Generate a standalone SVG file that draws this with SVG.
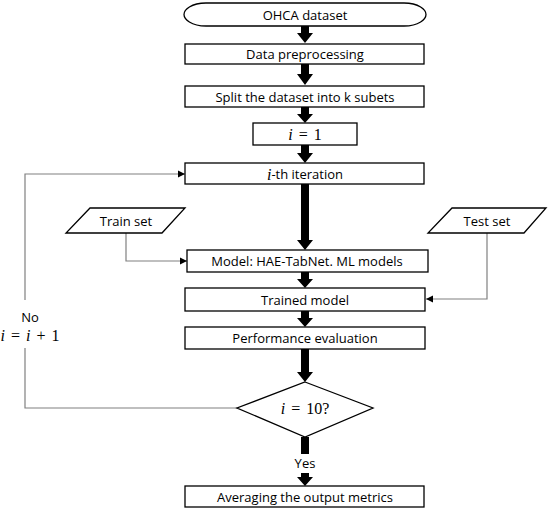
<svg xmlns="http://www.w3.org/2000/svg" width="550" height="517" viewBox="0 0 550 517">
<defs>
<style>
.box{fill:#fff;stroke:#000;stroke-width:1.3}
.t{font-family:"Open Sans","Liberation Sans",sans-serif;font-size:13px;fill:#000;text-anchor:middle;dominant-baseline:central}
.m{font-family:"Liberation Serif","DejaVu Serif",serif;font-size:16px;word-spacing:2px;fill:#000;text-anchor:middle;dominant-baseline:central}
.big{fill:#000}
.con{fill:none;stroke:#808080;stroke-width:1.2}
</style>
<marker id="ah" markerWidth="8" markerHeight="8" refX="7" refY="4" orient="auto" markerUnits="userSpaceOnUse">
<path d="M0,0.5 L7,4 L0,7.5 Z" fill="#000"/>
</marker>
</defs>
<rect width="550" height="517" fill="#fff"/>

<g id="connectors">
<polygon class="big" points="301,26 309,26 309,33 313,33 305,43 297,33 301,33"/>
<polygon class="big" points="301,64 309,64 309,74 313,74 305,85 297,74 301,74"/>
<polygon class="big" points="301,107 309,107 309,114 313,114 305,123 297,114 301,114"/>
<polygon class="big" points="301,145 309,145 309,153 313,153 305,163 297,153 301,153"/>
<polygon class="big" points="301,184 309,184 309,240 313,240 305,250 297,240 301,240"/>
<polygon class="big" points="301,272 309,272 309,279 313,279 305,288 297,279 301,279"/>
<polygon class="big" points="301,311 309,311 309,318 313,318 305,327 297,318 301,318"/>
<polygon class="big" points="301,349 309,349 309,372 313,372 305,382 297,372 301,372"/>
<rect class="big" x="301" y="437" width="8" height="17"/>
<polygon class="big" points="301,473 309,473 309,477 313,477 305,486 297,477 301,477"/>
<polyline class="con" points="237,408 25,408 25,348"/>
<polyline class="con" points="25,300 25,174 185,174" marker-end="url(#ah)"/>
<polyline class="con" points="126,233 126,261 187,261" marker-end="url(#ah)"/>
<polyline class="con" points="487,233 487,299 426,299" marker-end="url(#ah)"/>
<text class="t" x="30" y="317">No</text>
<text class="m" x="30" y="335"><tspan font-style="italic">i</tspan> = <tspan font-style="italic">i</tspan> + 1</text>
<text class="t" x="305" y="463">Yes</text>
</g>

<g id="ohca">
<path class="box" d="M206,3 L404,3 C419,3 426,10 426,14.5 C426,19 419,26 404,26 L206,26 C191,26 184,19 184,14.5 C184,10 191,3 206,3 Z"/>
<text class="t" x="305" y="14.5">OHCA dataset</text>
</g>
<g id="preprocessing">
<rect class="box" x="185" y="44" width="239" height="20"/>
<text class="t" x="305" y="54">Data preprocessing</text>
</g>
<g id="split">
<rect class="box" x="185" y="86" width="239" height="21"/>
<text class="t" x="305" y="96.5">Split the dataset into k subets</text>
</g>
<g id="init">
<rect class="box" x="253" y="123" width="104" height="22"/>
<text class="m" x="305" y="134"><tspan font-style="italic">i</tspan> = 1</text>
</g>
<g id="iteration">
<rect class="box" x="185" y="163" width="239" height="21"/>
<text class="t" x="305" y="173.5"><tspan font-family="Liberation Serif,serif" font-style="italic" font-size="16">i</tspan>-th iteration</text>
</g>
<g id="trainset">
<polygon class="box" points="90,208 185,208 162,233 66,233"/>
<text class="t" x="126" y="220.5">Train set</text>
</g>
<g id="testset">
<polygon class="box" points="452,208 546,208 524,233 428,233"/>
<text class="t" x="487" y="220.5">Test set</text>
</g>
<g id="model">
<rect class="box" x="187" y="250" width="241" height="22"/>
<text class="t" x="307" y="261">Model: HAE-TabNet. ML models</text>
</g>
<g id="trained">
<rect class="box" x="185" y="288" width="240" height="23"/>
<text class="t" x="305" y="299.5">Trained model</text>
</g>
<g id="performance">
<rect class="box" x="185" y="327" width="240" height="22"/>
<text class="t" x="305" y="338">Performance evaluation</text>
</g>
<g id="decision">
<polygon class="box" points="305,382 373,408 305,437 237,408"/>
<text class="m" x="305" y="408"><tspan font-style="italic">i</tspan> = 10?</text>
</g>
<g id="averaging">
<rect class="box" x="185" y="486" width="239" height="21"/>
<text class="t" x="305" y="496.5">Averaging the output metrics</text>
</g>
</svg>
